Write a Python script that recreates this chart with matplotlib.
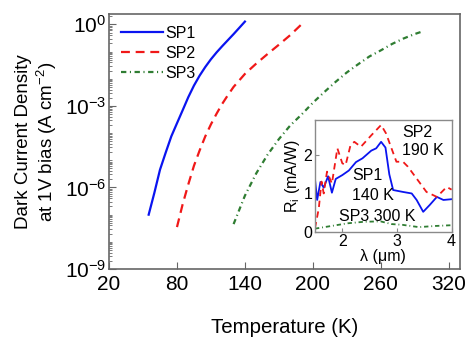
import numpy as np
import matplotlib
matplotlib.use("Agg")
import matplotlib.pyplot as plt
from matplotlib.ticker import LogLocator, NullFormatter, FixedLocator

plt.rcParams["font.family"] = ["Liberation Sans", "DejaVu Sans"]
plt.rcParams["mathtext.fontset"] = "custom"
plt.rcParams["mathtext.rm"] = "Liberation Sans"
plt.rcParams["mathtext.it"] = "Liberation Sans:italic"

SPINE_COLOR = "#666666"
INSET_SPINE = "#8a8a8a"
C_SP1 = "#0a14f0"
C_SP2 = "#f01818"
C_SP3 = "#2f7d32"

# dark current density vs temperature
t_sp1 = [55, 60, 65, 70, 75, 80, 85, 90, 95, 100, 105, 110, 115, 120, 125,
         130, 135, 140]
j_sp1 = [1.0e-7, 6.3e-7, 4.5e-6, 1.9e-5, 7.6e-5, 2.3e-4, 6.9e-4, 2.1e-3,
         5.6e-3, 1.3e-2, 2.7e-2, 5.2e-2, 9.3e-2, 0.158, 0.263, 0.437, 0.741,
         1.26]
t_sp2 = [80, 85, 90, 95, 100, 105, 110, 115, 120, 125, 130, 140, 150, 160,
         170, 180, 190]
j_sp2 = [3.5e-8, 2.4e-7, 1.3e-6, 6.3e-6, 2.3e-5, 7.6e-5, 2.1e-4, 5.2e-4,
         1.2e-3, 2.5e-3, 5.0e-3, 1.5e-2, 3.6e-2, 8.1e-2, 0.178, 0.40, 1.0]
t_sp3 = [130, 140, 150, 160, 170, 180, 190, 200, 210, 220, 230, 240, 250,
         260, 270, 280, 290, 297]
j_sp3 = [4.5e-8, 5.0e-7, 3.3e-6, 1.6e-5, 6.0e-5, 1.9e-4, 4.8e-4, 1.3e-3,
         3.2e-3, 7.6e-3, 1.7e-2, 3.4e-2, 6.6e-2, 0.11, 0.19, 0.30, 0.44, 0.55]

# inset: responsivity spectra
lam_sp1 = [1.5, 1.54, 1.6, 1.66, 1.74, 1.81, 1.88, 2.0, 2.12, 2.25, 2.37,
           2.53, 2.62, 2.71, 2.79, 2.86, 2.93, 3.11, 3.27, 3.36, 3.48, 3.6,
           3.73, 3.85, 4.0]
r_sp1 = [1.38, 0.83, 1.3, 1.15, 1.45, 1.02, 1.38, 1.48, 1.6, 1.82, 1.92,
         2.12, 2.18, 2.35, 2.2, 1.5, 1.09, 1.04, 1.0, 0.83, 0.52, 0.7,
         0.91, 0.83, 0.85]
lam_sp2 = [1.5, 1.57, 1.62, 1.66, 1.72, 1.81, 1.91, 2.0, 2.06, 2.15, 2.22,
           2.34, 2.53, 2.71, 2.8, 2.9, 2.99, 3.11, 3.2, 3.36, 3.54, 3.73,
           3.91, 4.0]
r_sp2 = [0.09, 0.61, 1.31, 1.0, 1.57, 1.26, 2.18, 1.79, 1.74, 2.26, 2.35,
         2.22, 2.52, 2.79, 2.57, 2.18, 1.83, 1.83, 1.7, 1.39, 1.04, 0.91,
         1.17, 1.1]
lam_sp3 = [1.5, 1.8, 2.1, 2.4, 2.7, 2.9, 3.1, 3.4, 3.7, 4.0]
r_sp3 = [0.08, 0.15, 0.22, 0.26, 0.27, 0.2, 0.18, 0.12, 0.15, 0.17]

x_ticks = [20, 80, 140, 200, 260, 320]
y_ticks = [1e-9, 1e-6, 1e-3, 1e0]

fig = plt.figure(figsize=(4.68, 3.41), dpi=100)
ax = fig.add_axes([0.233, 0.211, 0.750, 0.748])

ax.plot(t_sp1, j_sp1, color=C_SP1, lw=1.6, label="SP1")
ax.plot(t_sp2, j_sp2, color=C_SP2, lw=1.6, dashes=(4, 2.6), label="SP2")
ax.plot(t_sp3, j_sp3, color=C_SP3, lw=1.6, dashes=(2.4, 1.6, 0.5, 1.6),
        label="SP3")

ax.set_yscale("log")
ax.set_xlim(20, 330)
ax.set_ylim(1e-9, 2.4)
ax.xaxis.set_major_locator(FixedLocator(x_ticks))
ax.yaxis.set_major_locator(FixedLocator(y_ticks))
ax.yaxis.set_minor_locator(LogLocator(base=10, subs=np.arange(1, 10), numticks=100))
ax.yaxis.set_minor_formatter(NullFormatter())
ax.tick_params(which="both", direction="in", labelsize=15, color=SPINE_COLOR)
ax.tick_params(which="major", length=5, width=0.8)
ax.tick_params(which="minor", length=2.5, width=0.6)
ax.tick_params(axis="y", pad=2)
ax.tick_params(axis="x", pad=4.5)
for s in ax.spines.values():
    s.set_color(SPINE_COLOR)
    s.set_linewidth(1.2)

ax.set_xlabel("Temperature (K)", fontsize=14.7, labelpad=17)
ax.set_ylabel("Dark Current Density\nat 1V bias (A cm$^{-2}$)", fontsize=13.5,
              labelpad=4, linespacing=1.15)

ax.legend(loc="upper left", frameon=False, fontsize=11.5, handlelength=2.6,
          handletextpad=0.15, labelspacing=0.3, borderaxespad=0.2,
          borderpad=0.55)

# inset
axi = fig.add_axes([0.673, 0.3205, 0.292, 0.3275])
axi.plot(lam_sp1, r_sp1, color=C_SP1, lw=1.3)
axi.plot(lam_sp2, r_sp2, color=C_SP2, lw=1.3, dashes=(3.5, 2.5))
axi.plot(lam_sp3, r_sp3, color=C_SP3, lw=1.3, dashes=(2.4, 1.6, 0.5, 1.6))
axi.set_xlim(1.5, 4.0)
axi.set_ylim(0, 2.92)
axi.set_xticks([2, 3, 4])
axi.set_yticks([0, 1, 2])
axi.tick_params(direction="in", labelsize=11.5, length=3, pad=2,
                color=INSET_SPINE)
for s in axi.spines.values():
    s.set_color(INSET_SPINE)
    s.set_linewidth(1.0)
axi.set_xlabel("λ (μm)", fontsize=11.5, labelpad=0)
axi.set_ylabel("R$_\\mathrm{i}$ (mA/W)", fontsize=11.5, labelpad=1)

axi.text(3.1, 2.59, "SP2", fontsize=11.5, va="center", ha="left")
axi.text(3.09, 2.13, "190 K", fontsize=11.5, va="center", ha="left")
axi.text(2.18, 1.48, "SP1", fontsize=11.5, va="center", ha="left")
axi.text(2.18, 0.95, "140 K", fontsize=11.5, va="center", ha="left")
axi.text(1.94, 0.41, "SP3 300 K", fontsize=11.5, va="center", ha="left")

fig.savefig("out.png", dpi=100)
